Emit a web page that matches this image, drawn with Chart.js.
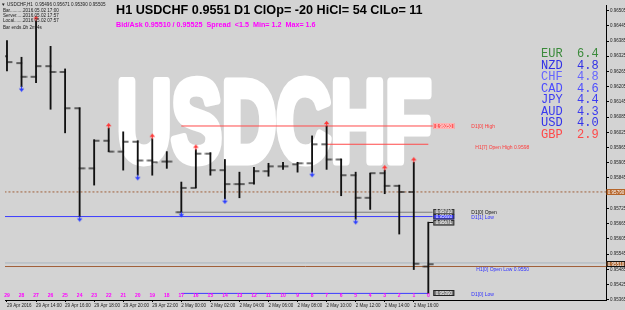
<!DOCTYPE html>
<html><head><meta charset="utf-8">
<script src="https://cdn.jsdelivr.net/npm/chart.js@4.4.1/dist/chart.umd.min.js"></script>
<style>html,body{margin:0;padding:0;background:#d3d3d3;overflow:hidden}canvas{display:block}</style>
</head><body>
<canvas id="c" width="625" height="310"></canvas>
<script>
// ---------- DATA (H1 bars, oldest -> newest; bar numbers 29..0) ----------
const barNumbers = [29,28,27,26,25,24,23,22,21,20,19,18,17,16,15,14,13,12,11,10,9,8,7,6,5,4,3,2,1,0];
const opens  = [0.96325,0.96298,0.96244,0.96286,0.96263,0.96120,0.95883,0.95992,0.95949,0.95988,0.95914,0.95910,0.95710,0.95806,0.95941,0.95876,0.95821,0.95825,0.95872,0.95891,0.95899,0.95903,0.95978,0.95918,0.95856,0.95767,0.95864,0.95814,0.95790,0.95496];
const highs  = [0.96387,0.96321,0.96465,0.96364,0.96275,0.96122,0.95996,0.96042,0.96027,0.95992,0.96000,0.95949,0.95829,0.95957,0.95945,0.95918,0.95868,0.95887,0.95903,0.95907,0.95907,0.96011,0.96050,0.95920,0.95868,0.95864,0.95876,0.95817,0.95907,0.95671];
const lows   = [0.96267,0.96205,0.96221,0.96116,0.96023,0.95693,0.95817,0.95949,0.95876,0.95856,0.95856,0.95883,0.95710,0.95806,0.95856,0.95763,0.95767,0.95821,0.95852,0.95879,0.95868,0.95868,0.95879,0.95775,0.95682,0.95721,0.95783,0.95624,0.95484,0.95390];
const closes = [0.96302,0.96244,0.96286,0.96263,0.96120,0.95883,0.95992,0.95949,0.95988,0.95914,0.95907,0.95910,0.95806,0.95941,0.95876,0.95821,0.95821,0.95872,0.95891,0.95891,0.95903,0.95978,0.95918,0.95856,0.95767,0.95864,0.95814,0.95790,0.95507,0.95505];
// fractal markers (positions in the arrays above)
const upFractals   = [2,7,10,13,22,26,28];
const downFractals = [1,5,9,12,15,21,24];
// time axis
const timeTickBars   = [0,2,4,6,8,10,12,14,16,18,20,22,24,26,28];
const timeTickLabels = ["29 Apr 2016","29 Apr 14:00","29 Apr 16:00","29 Apr 18:00","29 Apr 20:00","29 Apr 22:00","2 May 00:00","2 May 02:00","2 May 04:00","2 May 06:00","2 May 08:00","2 May 10:00","2 May 12:00","2 May 14:00","2 May 16:00"];
// price axis
const yTicks = [0.95365,0.95425,0.95485,0.95545,0.95605,0.95665,0.95725,0.95785,0.95845,0.95905,0.95965,0.96025,0.96085,0.96145,0.96205,0.96265,0.96325,0.96385,0.96445,0.96505];
// levels
const d1High = 0.96050, d1Open = 0.95710, d1PrevLow = 0.95693, d1Low = 0.95390;
const h1Bar7Open = 0.95978, h1Bar0Open = 0.95496, bidLevel = 0.95510, pivotLevel = 0.95790;
const dayStartBar = 12, bar7 = 22, lastBar = 29;
// currency strength
const currencies = ["EUR","NZD","CHF","CAD","JPY","AUD","USD","GBP"];
const strengths  = [6.4,4.8,4.8,4.6,4.4,4.3,4.0,2.9];
// texts
const headerText = "H1 USDCHF 0.9551 D1 ClOp= -20 HiCl= 54 ClLo= 11";
const bidAskText = "Bid/Ask 0.95510 / 0.95525  Spread  <1.5  Min= 1.2  Max= 1.6";
const infoTitle = "USDCHF,H1  0.95496 0.95671 0.95390 0.95505";
const infoKeys = ["Bar..........","Server.......","Local........","Bar ends...."];
const infoVals = ["2016.05.02 17:00","2016.05.02 17:57","2016.05.02 07:57","0h 2m 4s"];

// ---------- STYLE ----------
const BG = '#d3d3d3';
const currencyColors = ['#3a8a3a','#3030e6','#6464ff','#4c4cff','#3c3cf2','#3a3af0','#3232ea','#ff4848'];
const FONT = '"Liberation Sans", Arial, sans-serif';

function tickImg(left){
  const c=document.createElement('canvas'); c.width=12; c.height=4;
  const g=c.getContext('2d'); g.fillStyle='#111';
  if(left) g.fillRect(0.6,1.4,5.8,1.2); else g.fillRect(5.6,1.4,5.8,1.2);
  return c;
}
function arrowImg(color, up){
  const c=document.createElement('canvas'); c.width=7; c.height=12;
  const g=c.getContext('2d'); g.fillStyle=color;
  g.beginPath();
  if(up){ g.moveTo(0.8,4.2); g.lineTo(3.5,0.8); g.lineTo(6.2,4.2); g.closePath(); g.fill(); g.fillRect(3,4,1,2.4); }
  else { g.moveTo(0.8,7.8); g.lineTo(3.5,11.2); g.lineTo(6.2,7.8); g.closePath(); g.fill(); g.fillRect(3,5.6,1,2.4); }
  return c;
}
const idx = opens.map((_,i)=>i);
function level(y, from, to, color, dash){
  return {type:'line', data:[{x:from,y},{x:to,y}], borderColor:color, borderWidth:1, borderDash:dash||[], pointRadius:0, order:5};
}

const bgPlugin = {id:'bg', beforeDraw(ch){const c=ch.ctx; c.save(); c.fillStyle=BG; c.fillRect(0,0,ch.width,ch.height); c.restore();}};

const watermark = {id:'wm', beforeDatasetsDraw(ch){
  const c=ch.ctx; c.save();
  const lw=9;
  c.font='bold 100px '+FONT;
  const m=c.measureText('USDCHF');
  const size=100*(90-lw)/m.actualBoundingBoxAscent;
  c.font='bold '+size+'px '+FONT;
  const m2=c.measureText('USDCHF');
  const ink=m2.actualBoundingBoxLeft+m2.actualBoundingBoxRight;
  const sx=314/(ink+lw);
  c.translate(118,165-lw/2); c.scale(sx,1);
  c.fillStyle='#ffffff'; c.strokeStyle='#ffffff'; c.lineWidth=lw; c.lineJoin='round';
  c.textBaseline='alphabetic'; c.textAlign='left';
  c.fillText('USDCHF', m2.actualBoundingBoxLeft+lw/2, 0);
  c.strokeText('USDCHF', m2.actualBoundingBoxLeft+lw/2, 0);
  c.restore();
}};

function fitText(c, text, weight, targetW, base){
  c.font=weight+' '+base+'px '+FONT;
  const w=c.measureText(text).width;
  return base*targetW/w;
}
function box(c,x,yc,w,h,fill,stroke,text,tcol){
  const top=Math.round(yc-h/2);
  c.fillStyle=fill; c.fillRect(x,top,w,h);
  if(stroke){c.strokeStyle=stroke; c.lineWidth=1; c.strokeRect(x+0.5,top+0.5,w-1,h-1);}
  c.fillStyle=tcol; c.font='4.5px '+FONT; c.textAlign='center'; c.textBaseline='middle';
  c.fillText(text,x+w/2,top+h/2+0.3);
}

const overlay = {id:'ov', afterDraw(ch){
  const c=ch.ctx, X=v=>ch.scales.x.getPixelForValue(v), Y=v=>ch.scales.y.getPixelForValue(v);
  c.save();
  // pink bar numbers
  c.fillStyle='#ff00ff'; c.font='bold 5px '+FONT; c.textAlign='center'; c.textBaseline='alphabetic';
  barNumbers.forEach((n,i)=>c.fillText(String(n), X(i), 297));
  // price boxes next to last bar
  const bx=X(lastBar)+5, bw=21;
  box(c,bx,Y(d1High),bw,6,'#ff5c5c','#ffb4b4',d1High.toFixed(5),'#fff');
  box(c,bx,Y(d1Open)-0.5,bw,5.5,'#8a8a8a','#333',d1Open.toFixed(5),'#fff');
  box(c,bx,Y(d1PrevLow)+0.3,bw,5.5,'#3c3cff','#333',d1PrevLow.toFixed(5),'#fff');
  c.strokeStyle='#111'; c.lineWidth=1; c.beginPath(); c.moveTo(X(lastBar),Math.round(Y(highs[lastBar]))+0.5); c.lineTo(bx,Math.round(Y(highs[lastBar]))+0.5); c.stroke();
  box(c,bx,Y(highs[lastBar])+1,bw,5.5,'#8a8a8a','#333',highs[lastBar].toFixed(5),'#fff');
  box(c,bx,Y(d1Low),bw,6,'#7a7a7a','#222',d1Low.toFixed(5),'#fff');
  // level labels
  c.font='5px '+FONT; c.textAlign='left'; c.textBaseline='middle';
  const lx=X(lastBar)+43;
  c.fillStyle='#ff3a3a'; c.fillText('D1[0] High',lx,Y(d1High)+1);
  c.fillText('H1[7] Open High '+h1Bar7Open.toFixed(4),lx+4,Y(h1Bar7Open)+3);
  c.fillStyle='#111'; c.fillText('D1[0] Open',lx,Y(d1Open)+0.5);
  c.fillStyle='#3030ff'; c.fillText('D1[1] Low',lx,Y(d1PrevLow)+1.5);
  c.fillText('H1[0] Open Low '+(Math.round(h1Bar0Open*10000)/10000).toFixed(4),lx+5,Y(h1Bar0Open)+3);
  c.fillText('D1[0] Low',lx,Y(d1Low)+1.5);
  // axis highlight boxes
  const ax=ch.chartArea.right+0.5;
  box(c,ax,Y(pivotLevel),19,6,'#b5652a',null,pivotLevel.toFixed(5),'#fff');
  box(c,ax,Y(bidLevel)+1.5,19,6,'#a8602a','#111',bidLevel.toFixed(5),'#fff');
  // currency strength
  c.font='12px "Liberation Mono", "Courier New", monospace'; c.textAlign='left'; c.textBaseline='alphabetic';
  currencies.forEach((cur,i)=>{c.fillStyle=currencyColors[i]; c.fillText(cur,541,57.3+i*11.5); c.fillText(strengths[i].toFixed(1),577,57.3+i*11.5);});
  // header
  const hs=fitText(c,headerText,'bold',307,12);
  c.font='bold '+hs+'px '+FONT; c.fillStyle='#000'; c.fillText(headerText,116,13.5);
  const bs=fitText(c,bidAskText,'bold',200,7);
  c.font='bold '+bs+'px '+FONT; c.fillStyle='#ff00ff'; c.fillText(bidAskText,116,26.8);
  // info block
  c.fillStyle='#1a1a1a'; c.font='4.6px '+FONT;
  c.fillText('\u25BC',1,6); c.fillText(infoTitle,7,6);
  infoKeys.forEach((k,i)=>{const yy=[11.5,17,22.3,28.5][i]; c.fillText(k,3,yy); c.fillText(infoVals[i],23,yy);});
  c.restore();
}};

new Chart(document.getElementById('c'), {
  type:'bar',
  data:{datasets:[
    {type:'scatter', data:upFractals.map(i=>({x:i,y:highs[i]})), pointStyle:arrowImg('#ff3434',true), radius:3, order:0},
    {type:'scatter', data:downFractals.map(i=>({x:i,y:lows[i]})), pointStyle:arrowImg('#2a3cff',false), radius:3, order:0},
    {type:'scatter', data:idx.map(i=>({x:i,y:opens[i]})), pointStyle:tickImg(true), radius:3, order:1},
    {type:'scatter', data:idx.map(i=>({x:i,y:closes[i]})), pointStyle:tickImg(false), radius:3, order:1},
    {type:'bar', data:idx.map(i=>({x:i,y:[lows[i],highs[i]]})), backgroundColor:'#111', borderWidth:0, barThickness:1.2, order:2},
    level(d1High, dayStartBar, lastBar+0.3, '#ff4a4a'),
    level(h1Bar7Open, bar7, lastBar, '#ff4a4a'),
    level(d1Open, dayStartBar, lastBar+0.3, '#7c7c7c'),
    level(d1PrevLow, -1, lastBar+0.3, '#3c3cff'),
    level(d1Low, dayStartBar, lastBar, '#3c3cff'),
    level(pivotLevel, -1, 43, '#a0603a', [2,2]),
    level(bidLevel, -1, 43, '#a9b4bd'),
    level(h1Bar0Open, -1, 43, '#a0603a')
  ]},
  options:{
    responsive:false, animation:false, devicePixelRatio:1,
    layout:{padding:0},
    plugins:{legend:{display:false}, tooltip:{enabled:false}},
    scales:{
      x:{type:'linear', position:'bottom', min:-0.1365, max:41.23, offset:false,
        afterBuildTicks:s=>{s.ticks=timeTickBars.map(v=>({value:v}));},
        afterFit:s=>{s.height=10; s.paddingLeft=0; s.paddingRight=0;},
        ticks:{font:{size:4.5,family:FONT}, color:'#222', padding:1, maxRotation:0, autoSkip:false, align:'start',
          callback:(v,i)=>timeTickLabels[i]},
        grid:{drawOnChartArea:false, offset:false, tickLength:2, color:'#000'},
        border:{display:true, color:'#000', width:1}},
      y:{type:'linear', position:'right', min:0.95364, max:0.96527,
        afterBuildTicks:s=>{s.ticks=yTicks.map(v=>({value:v}));},
        afterFit:s=>{s.width=19; s.paddingTop=0; s.paddingBottom=0;},
        ticks:{font:{size:4.5,family:FONT}, color:'#222', padding:1, autoSkip:false, callback:v=>v.toFixed(5)},
        grid:{drawOnChartArea:false, tickLength:3, color:'#000'},
        border:{display:true, color:'#000', width:1}}
    }
  },
  plugins:[bgPlugin, watermark, overlay]
});
</script>
</body></html>
